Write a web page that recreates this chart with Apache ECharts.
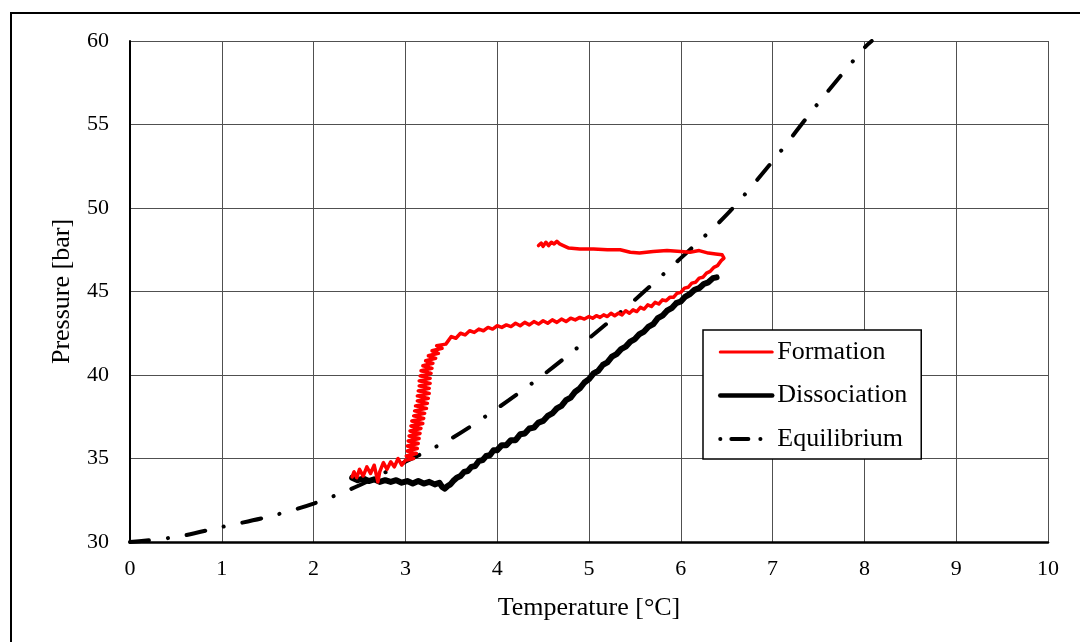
<!DOCTYPE html>
<html>
<head>
<meta charset="utf-8">
<script src="https://cdn.jsdelivr.net/npm/echarts@6/dist/echarts.min.js"></script>
<style>html,body{margin:0;padding:0;background:#fff;}#c{width:1080px;height:642px;}</style>
</head>
<body>
<div id="c"></div>
<script>
// Tick settings
const xTicks = [0, 10, 1];   // min, max, interval
const yTicks = [30, 60, 5];

// Formation (red), in drawing order
const formationT = [
  4.45,4.48,4.50,4.53,4.56,4.59,4.62,4.65,4.68,4.72,4.78,4.90,5.05,5.20,5.34,5.45,5.55,5.70,5.85,6.00,6.10,6.20,6.30,6.38,6.45,6.47,
  6.44,6.40,6.36,6.32,6.28,6.24,6.20,6.16,6.12,6.08,6.04,6.00,5.96,5.92,5.88,5.84,5.80,5.76,5.72,5.68,5.64,5.60,5.56,5.52,5.48,5.44,5.40,5.36,5.32,5.28,5.24,5.20,5.16,5.12,5.08,5.04,5.00,
  4.95,4.90,4.85,4.80,4.75,4.70,4.65,4.60,4.55,4.50,4.45,4.40,4.35,4.30,4.25,4.20,4.15,4.10,4.05,4.00,3.95,3.90,3.85,3.80,3.75,3.70,3.65,3.60,3.55,3.50,3.46,
  3.44,3.34,3.40,3.29,3.36,3.25,3.33,3.22,3.30,3.19,3.29,3.17,3.28,3.16,3.27,3.15,3.27,3.15,3.26,3.14,3.26,3.13,3.25,3.13,3.24,3.11,3.23,3.10,3.21,3.09,3.20,3.07,3.19,3.06,3.17,3.05,3.16,3.04,3.15,3.03,3.14,3.02,3.13,3.02,3.12,3.01,3.09,3.00,
  2.96,2.92,2.88,2.84,2.80,2.76,2.72,2.70,2.66,2.62,2.58,2.54,2.50,2.47,2.44,2.42
];
const formationP = [
  47.75,47.90,47.70,47.95,47.75,47.95,47.85,48.00,47.85,47.75,47.60,47.55,47.55,47.50,47.50,47.35,47.30,47.40,47.45,47.40,47.35,47.45,47.30,47.25,47.20,47.00,
  46.85,46.55,46.45,46.20,46.10,45.85,45.80,45.55,45.50,45.25,45.20,44.95,44.90,44.65,44.65,44.45,44.50,44.25,44.35,44.10,44.20,43.95,44.05,43.80,43.90,43.70,43.85,43.60,43.70,43.55,43.70,43.50,43.60,43.45,43.55,43.40,43.50,
  43.35,43.45,43.30,43.40,43.20,43.35,43.15,43.30,43.10,43.25,43.05,43.20,43.00,43.15,42.95,43.10,42.90,43.00,42.85,42.95,42.75,42.85,42.65,42.75,42.55,42.65,42.40,42.50,42.20,42.30,42.00,
  41.85,41.75,41.60,41.45,41.30,41.15,41.00,40.85,40.70,40.55,40.40,40.25,40.10,39.95,39.80,39.65,39.50,39.35,39.20,39.05,38.90,38.75,38.60,38.45,38.30,38.15,38.00,37.85,37.70,37.55,37.40,37.25,37.10,36.95,36.80,36.65,36.50,36.35,36.20,36.05,35.90,35.75,35.60,35.45,35.30,35.15,35.00,34.90,
  34.60,35.00,34.50,34.80,34.35,34.75,34.20,33.60,34.60,34.10,34.50,33.95,34.35,33.85,34.20,33.90
];

// Dissociation (black)
const dissociationT = [2.42,2.48,2.54,2.60,2.66,2.72,2.78,2.84,2.90,2.96,3.02,3.08,3.14,3.20,3.26,3.32,3.37,3.40,3.43,3.46,3.49,3.52,3.56,3.60,3.64,3.68,3.72,3.76,3.80,3.84,3.88,3.92,3.96,4.00,4.05,4.10,4.15,4.20,4.25,4.30,4.35,4.40,4.45,4.50,4.55,4.60,4.65,4.70,4.75,4.80,4.85,4.90,4.95,5.00,5.05,5.10,5.15,5.20,5.25,5.30,5.35,5.40,5.45,5.50,5.55,5.60,5.65,5.70,5.75,5.80,5.85,5.90,5.95,6.00,6.05,6.10,6.15,6.20,6.25,6.30,6.35,6.39];
const dissociationP = [33.85,33.70,33.80,33.65,33.75,33.60,33.70,33.60,33.70,33.55,33.65,33.50,33.65,33.50,33.60,33.45,33.55,33.30,33.20,33.35,33.45,33.65,33.85,33.95,34.20,34.25,34.50,34.55,34.85,34.90,35.15,35.20,35.50,35.50,35.80,35.80,36.10,36.10,36.45,36.50,36.80,36.85,37.15,37.25,37.55,37.70,38.00,38.15,38.50,38.65,39.00,39.20,39.55,39.75,40.10,40.25,40.60,40.75,41.10,41.25,41.55,41.70,42.00,42.15,42.45,42.60,42.90,43.05,43.40,43.55,43.85,44.00,44.30,44.40,44.70,44.85,45.10,45.20,45.45,45.55,45.80,45.85];

// Equilibrium (dash-dot)
const equilibriumT = [0,0.5,1,1.5,2,2.5,3,3.5,4,4.5,5,5.5,6,6.5,7,7.5,8,8.08];
const equilibriumP = [30,30.3,30.9,31.5,32.3,33.4,34.8,36.2,38.0,40.0,42.2,44.5,47.0,49.6,52.8,56.3,59.6,60];

const pairs = (a, b) => a.map((v, i) => [v, b[i]]);

const serif = '"Liberation Serif", "Times New Roman", serif';
const hiddenSymbol = {color: 'rgba(0,0,0,0)', borderColor: 'rgba(0,0,0,0)', borderWidth: 0};
const chart = echarts.init(document.getElementById('c'), null, {renderer: 'canvas'});
chart.setOption({
  animation: false,
  backgroundColor: '#fff',
  graphic: [{
    type: 'rect', silent: true, z: -10,
    shape: {x: 11, y: 13, width: 1200, height: 800},
    style: {fill: null, stroke: '#000', lineWidth: 2}
  }],
  grid: {left: 130, right: 32, top: 41, bottom: 100, containLabel: false},
  xAxis: {
    type: 'value', min: xTicks[0], max: xTicks[1], interval: xTicks[2],
    name: 'Temperature [°C]', nameLocation: 'middle', nameGap: 53,
    nameTextStyle: {fontFamily: serif, fontSize: 26, color: '#000'},
    axisLine: {show: true, onZero: false, lineStyle: {color: '#000', width: 2.5}},
    axisTick: {show: false},
    axisLabel: {fontFamily: serif, fontSize: 22, color: '#000', margin: 16},
    splitLine: {show: true, lineStyle: {color: '#505050', width: 1}}
  },
  yAxis: {
    type: 'value', min: yTicks[0], max: yTicks[1], interval: yTicks[2],
    name: 'Pressure [bar]', nameLocation: 'middle', nameGap: 55, nameRotate: 90,
    nameTextStyle: {fontFamily: serif, fontSize: 26, color: '#000'},
    axisLine: {show: true, onZero: false, lineStyle: {color: '#000', width: 2}},
    axisTick: {show: false},
    axisLabel: {fontFamily: serif, fontSize: 22, color: '#000', margin: 21},
    splitLine: {show: true, lineStyle: {color: '#505050', width: 1}}
  },
  legend: {
    left: 703, top: 330, orient: 'vertical',
    backgroundColor: '#fff', borderColor: '#000', borderWidth: 1.5,
    padding: [9, 14, 7, 15], itemGap: 17.5, itemWidth: 52, itemHeight: 14,
    textStyle: {fontFamily: serif, fontSize: 26, color: '#000'},
    itemStyle: hiddenSymbol,
    data: [
      {name: 'Formation', itemStyle: hiddenSymbol, lineStyle: {width: 3}},
      {name: 'Dissociation', itemStyle: hiddenSymbol, lineStyle: {width: 4.5}},
      {name: 'Equilibrium', itemStyle: hiddenSymbol, lineStyle: {type: [0.1, 11, 17, 12, 0.1, 60], cap: 'round', width: 4}}
    ]
  },
  series: [
    {
      name: 'Equilibrium', type: 'line', data: pairs(equilibriumT, equilibriumP),
      symbol: 'none', smooth: 0.3, z: 3,
      lineStyle: {color: '#000', width: 4, type: [19, 19, 0.1, 19], cap: 'round'},
      itemStyle: {color: '#000'}
    },
    {
      name: 'Dissociation', type: 'line', data: pairs(dissociationT, dissociationP),
      symbol: 'none', z: 4,
      lineStyle: {color: '#000', width: 6, join: 'round', cap: 'round'},
      itemStyle: {color: '#000'}
    },
    {
      name: 'Formation', type: 'line', data: pairs(formationT, formationP),
      symbol: 'none', z: 5,
      lineStyle: {color: '#ff0000', width: 3.5, join: 'round', cap: 'round'},
      itemStyle: {color: '#ff0000'}
    }
  ]
});
</script>
</body>
</html>
